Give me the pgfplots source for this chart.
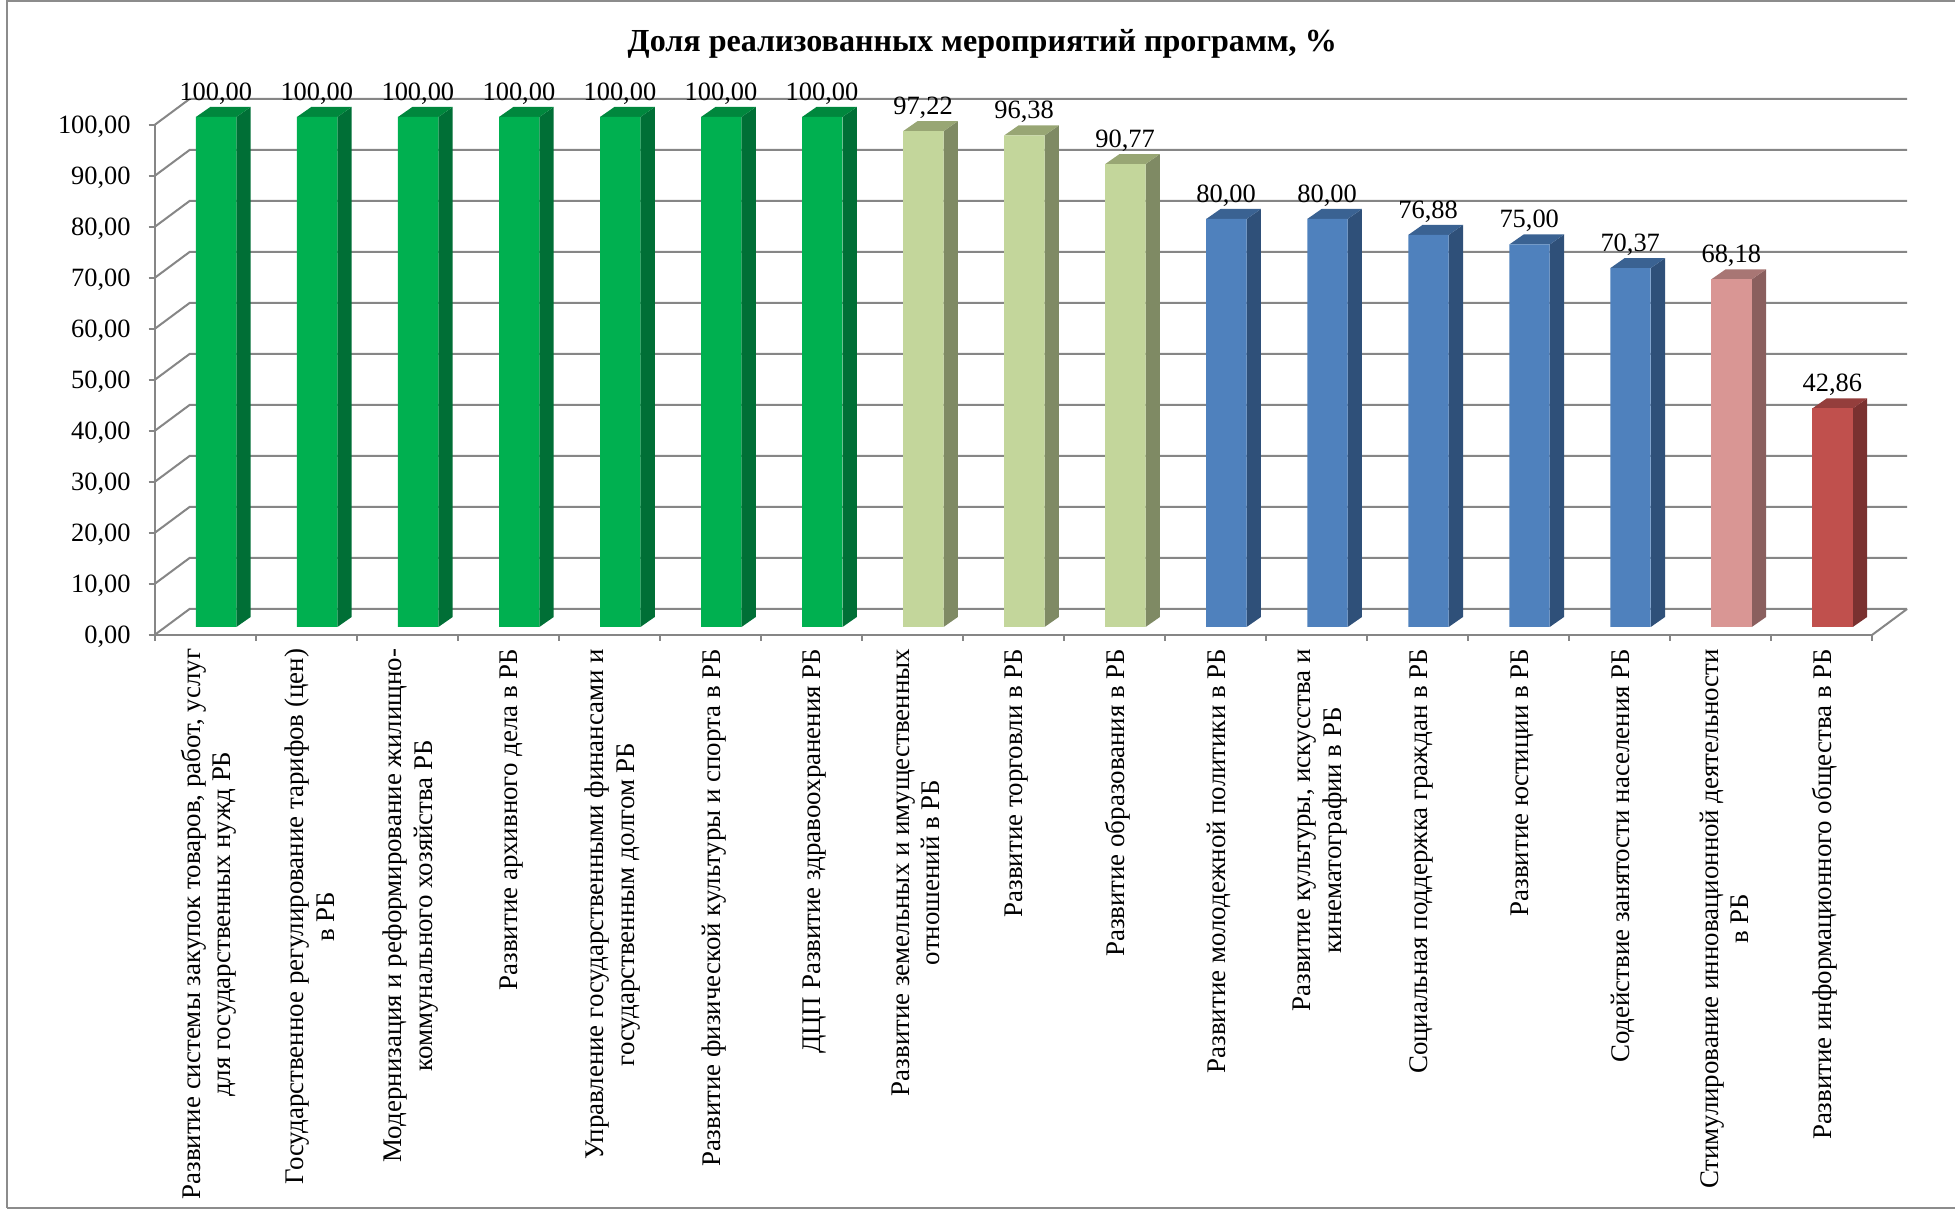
\documentclass[border=0pt]{standalone}
\usepackage{fontspec}
\setmainfont{Liberation Serif}
\usepackage{pgfplots}
\usepackage{pgfplotstable}
\pgfplotsset{compat=1.18}
\definecolor{tickgray}{HTML}{868686}
\definecolor{frameg}{HTML}{8C8C8C}
\definecolor{gf}{HTML}{00B050}\definecolor{gs}{HTML}{006F36}\definecolor{gt}{HTML}{00873D}
\definecolor{lf}{HTML}{C3D69B}\definecolor{ls}{HTML}{7F8A64}\definecolor{lt}{HTML}{98A674}
\definecolor{bf}{HTML}{4F81BD}\definecolor{bs}{HTML}{2F5079}\definecolor{bt}{HTML}{3A6292}
\definecolor{pf}{HTML}{D99694}\definecolor{ps}{HTML}{8A5F5E}\definecolor{pt}{HTML}{A87674}
\definecolor{rf}{HTML}{C0504D}\definecolor{rs}{HTML}{7A3130}\definecolor{rt}{HTML}{943E3C}
\pgfplotstableread{
x v
0.5 100.00
1.5 100.00
2.5 100.00
3.5 100.00
4.5 100.00
5.5 100.00
6.5 100.00
}\tg
\pgfplotstableread{
x v
7.5 97.22
8.5 96.38
9.5 90.77
}\tl
\pgfplotstableread{
x v
10.5 80.00
11.5 80.00
12.5 76.88
13.5 75.00
14.5 70.37
}\tb
\pgfplotstableread{
x v
15.5 68.18
}\tp
\pgfplotstableread{
x v
16.5 42.86
}\tr
% side and top faces of a bar: index, value, side colour, top colour
\newcommand\Depth[4]{%
  \pgfmathsetmacro\xa{#1+0.41}\pgfmathsetmacro\xb{#1+0.81}\pgfmathsetmacro\xc{#1+0.9516}%
  \pgfmathsetmacro\xd{#1+0.5516}%
  \pgfmathsetmacro\ya{#2+1.57}\pgfmathsetmacro\yb{#2+3.53}%
  \edef\tmp{\noexpand\addplot[fill=#3,draw=none,forget plot] coordinates {(\xb,1.57)(\xc,3.53)(\xc,\yb)(\xb,\ya)};
  \noexpand\addplot[fill=#4,draw=none,forget plot] coordinates {(\xa,\ya)(\xb,\ya)(\xc,\yb)(\xd,\yb)};}\tmp}
\newcommand\Wall[1]{%
  \pgfmathsetmacro\yb{#1+5.1}%
  \edef\tmp{\noexpand\addplot[tickgray,line width=1pt,forget plot] coordinates {(0,#1)(0.347,\yb)(17.347,\yb)};}\tmp}
\pgfplotsset{front/.style={ybar,bar width=20.2pt,bar shift=5.55pt,yshift=4pt,draw=none,
  nodes near coords={\pgfmathprintnumber[fixed,use comma,fixed zerofill,precision=2,assume math mode=true]{\pgfplotspointmeta}},
  every node near coord/.append style={anchor=center,xshift=5.4pt,yshift=11.7pt,black,font=\fontsize{13.2}{15}\selectfont}}}
\begin{document}
\begin{tikzpicture}[x=1pt,y=1pt]
\path[use as bounding box] (0,0) rectangle (977.5,605);
\draw[frameg,line width=1pt] (3.25,1) -- (3.25,604.5) -- (977.5,604.5);
\draw[frameg,line width=1pt] (3.25,1) -- (977.5,1);
\begin{axis}[
  at={(77.25pt,287.5pt)},anchor=south west,
  scale only axis,width=858.75pt,height=255pt,
  xmin=0,xmax=17,ymin=0,ymax=100,clip=false,
  axis lines*=left,
  axis line style={tickgray,line width=1pt},
  tick style={tickgray,line width=1pt},
  tick align=outside,
  major tick length=3pt,
  ytick={0,10,...,100},
  yticklabel style={/pgf/number format/fixed,/pgf/number format/use comma,/pgf/number format/fixed zerofill,/pgf/number format/precision=2,/pgf/number format/assume math mode=true,
    font=\fontsize{13.2}{15}\selectfont,black,xshift=-5.4pt,yshift=-0.8pt},
  xtick={0.5,1.5,...,16.5},
  minor xtick={0,1,...,17},
  x tick style={draw=none},
  minor x tick style={draw=tickgray,line width=1pt},
  minor tick length=3pt,
  xticklabel style={rotate=90,anchor=east,align=center,black,
    font=\fontsize{13.45}{15.2}\selectfont,yshift=-1.8pt,xshift=-0.45pt},
  xticklabels={
    {Развитие системы закупок товаров, работ, услуг\\для государственных нужд РБ},
    {Государственное регулирование тарифов (цен)\\в РБ},
    {Модернизация и реформирование жилищно-\\коммунального хозяйства РБ},
    {Развитие архивного дела в РБ},
    {Управление государственными финансами и\\государственным долгом РБ},
    {Развитие физической культуры и спорта в РБ},
    {ДЦП Развитие здравоохранения РБ},
    {Развитие земельных и имущественных\\отношений в РБ},
    {Развитие торговли в РБ},
    {Развитие образования в РБ},
    {Развитие молодежной политики в РБ},
    {Развитие культуры, искусства и\\кинематографии в РБ},
    {Социальная поддержка граждан в РБ},
    {Развитие юстиции в РБ},
    {Содействие занятости населения РБ},
    {Стимулирование инновационной деятельности\\в РБ},
    {Развитие информационного общества в РБ}},
  title={\textbf{Доля реализованных мероприятий программ, \%}},
  title style={at={(0.482,1.136)},anchor=center,font=\fontsize{16.05}{18}\selectfont},
]
\Wall{0}\Wall{10}\Wall{20}\Wall{30}\Wall{40}\Wall{50}\Wall{60}\Wall{70}\Wall{80}\Wall{90}\Wall{100}
\addplot[tickgray,line width=1pt,forget plot] coordinates {(17,0)(17.347,5.1)};
\Depth{0}{100}{gs}{gt}\Depth{1}{100}{gs}{gt}\Depth{2}{100}{gs}{gt}\Depth{3}{100}{gs}{gt}
\Depth{4}{100}{gs}{gt}\Depth{5}{100}{gs}{gt}\Depth{6}{100}{gs}{gt}
\Depth{7}{97.22}{ls}{lt}\Depth{8}{96.38}{ls}{lt}\Depth{9}{90.77}{ls}{lt}
\Depth{10}{80}{bs}{bt}\Depth{11}{80}{bs}{bt}\Depth{12}{76.88}{bs}{bt}\Depth{13}{75}{bs}{bt}\Depth{14}{70.37}{bs}{bt}
\Depth{15}{68.18}{ps}{pt}\Depth{16}{42.86}{rs}{rt}
\addplot[front,fill=gf] table[x=x,y=v] {\tg};
\addplot[front,fill=lf] table[x=x,y=v] {\tl};
\addplot[front,fill=bf] table[x=x,y=v] {\tb};
\addplot[front,fill=pf] table[x=x,y=v] {\tp};
\addplot[front,fill=rf] table[x=x,y=v] {\tr};
\end{axis}
\end{tikzpicture}
\end{document}
